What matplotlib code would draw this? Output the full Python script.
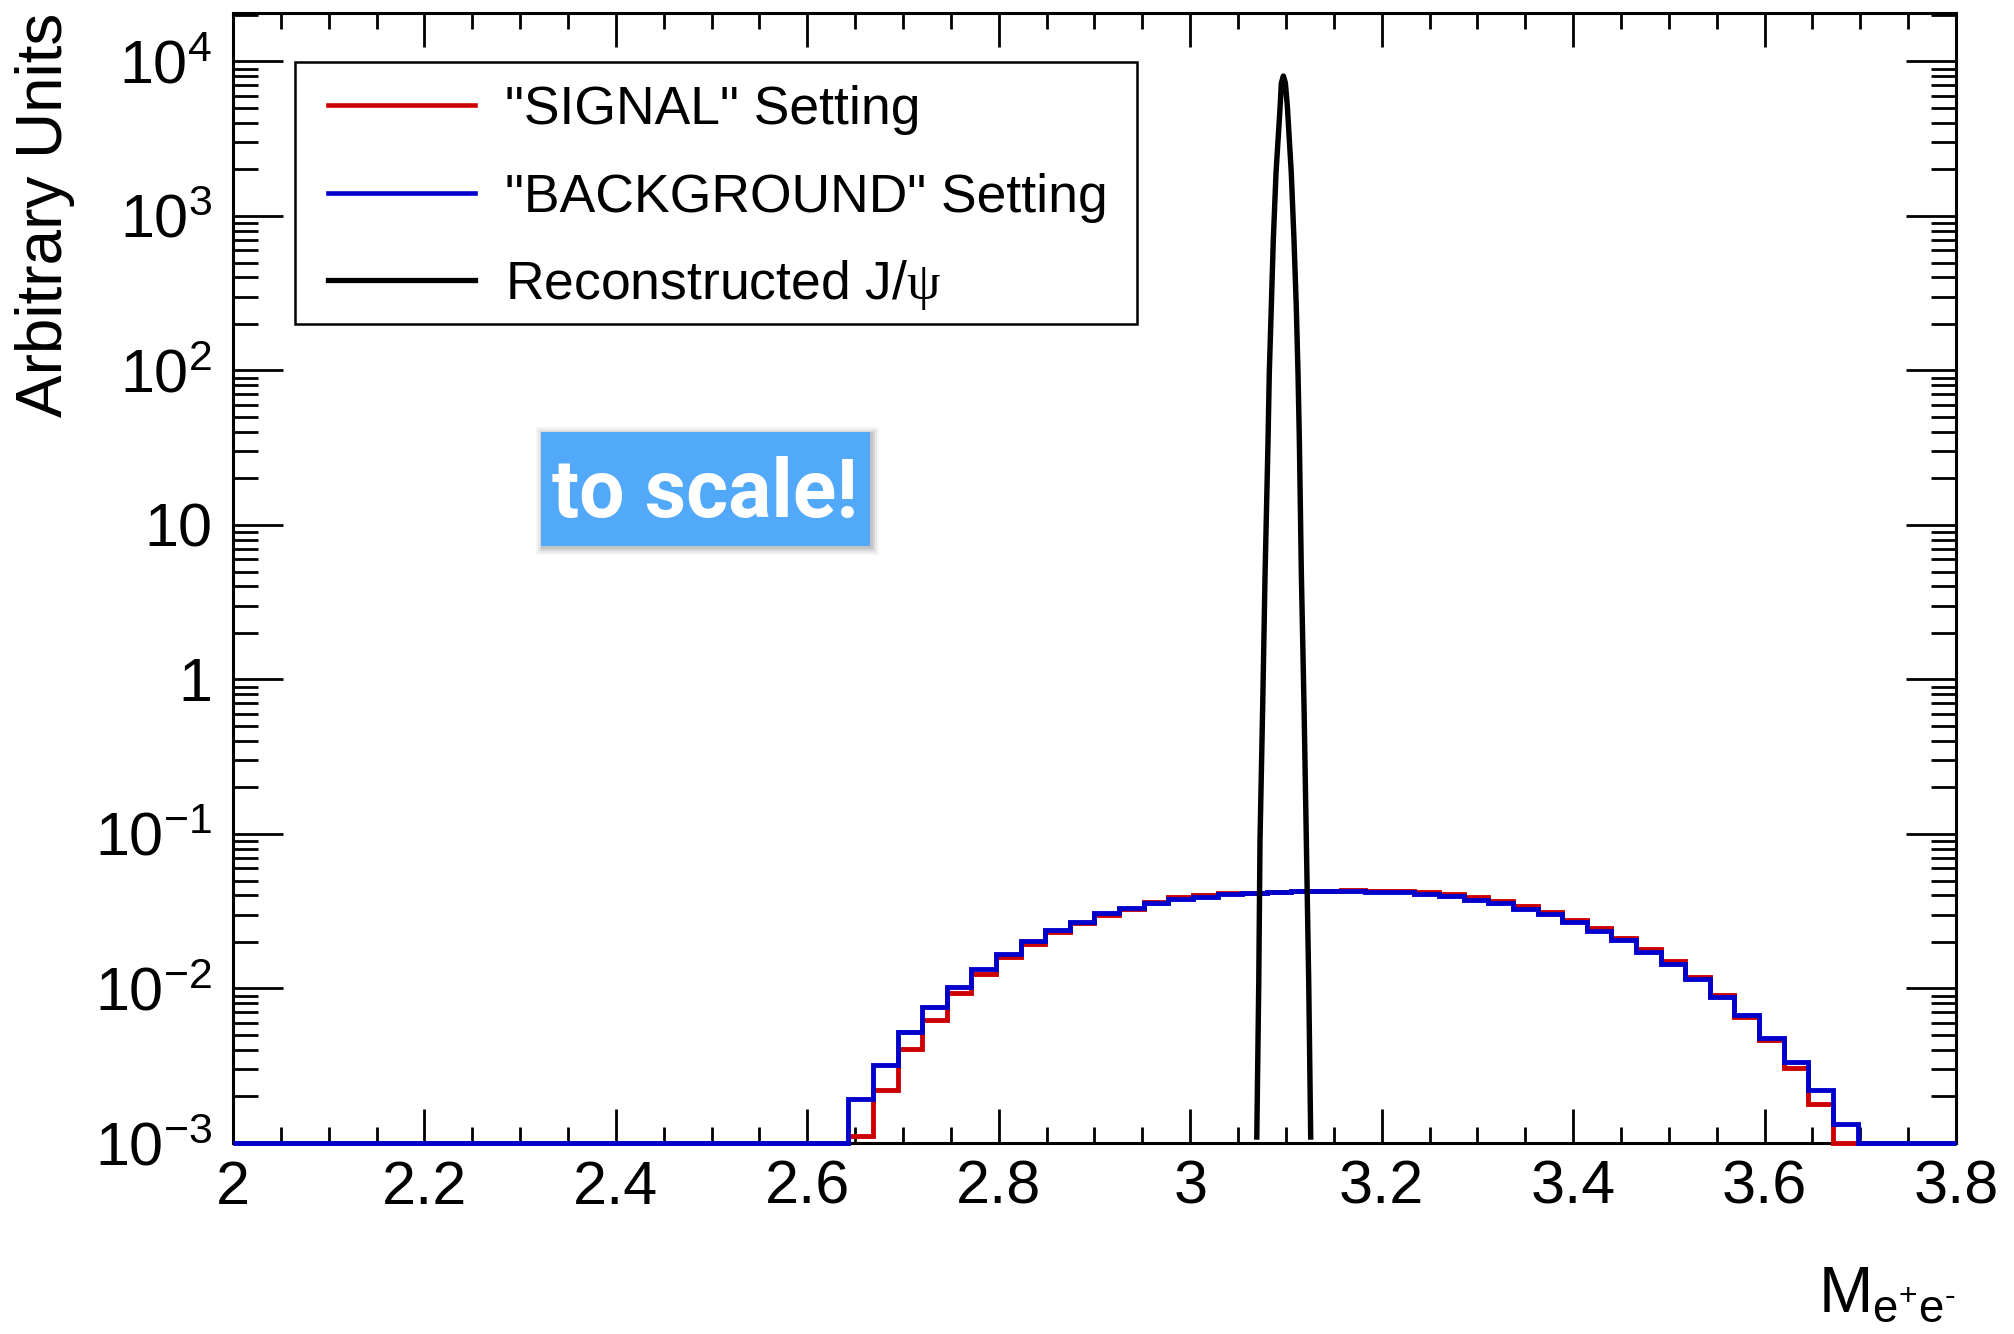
import numpy as np
import matplotlib
matplotlib.use("Agg")
import matplotlib.pyplot as plt
from matplotlib.patches import Rectangle
from matplotlib.lines import Line2D

# ---------------------------------------------------------------- data
# invariant-mass histograms: 70 bins between 2.0 and 3.8
mass_range = (2.0, 3.8)
n_bins = 70

signal_setting = [0.0] * 25 + [
    0.00111, 0.0022, 0.00404, 0.00625, 0.00931, 0.0125, 0.0161, 0.0194,
    0.0231, 0.0267, 0.0299, 0.0329, 0.0361, 0.0389, 0.0405, 0.0417,
    0.0417, 0.0423, 0.0428, 0.0430, 0.0432, 0.0430, 0.0428, 0.0419,
    0.0409, 0.0393, 0.0370, 0.0343, 0.0313, 0.0277, 0.0248, 0.0211,
    0.0180, 0.0151, 0.0118, 0.00907, 0.00657, 0.00464, 0.00304, 0.00178,
] + [0.0] * 5

background_setting = [0.0] * 25 + [
    0.00192, 0.0032, 0.0052, 0.0076, 0.0102, 0.0134, 0.0167, 0.0204,
    0.0238, 0.0271, 0.0307, 0.0333, 0.0357, 0.0379, 0.0393, 0.0407,
    0.0415, 0.0423, 0.0428, 0.0430, 0.0430, 0.0423, 0.0419, 0.0409,
    0.0395, 0.0374, 0.0356, 0.0327, 0.0302, 0.0268, 0.0237, 0.0206,
    0.0173, 0.0144, 0.0115, 0.00885, 0.0067, 0.00476, 0.00333, 0.0022,
    0.00132,
] + [0.0] * 4

# reconstructed J/psi line shape
jpsi_mass = [3.0695, 3.0716, 3.0729, 3.0757, 3.0782, 3.0813, 3.0826, 3.0847,
             3.0868, 3.0896, 3.0939, 3.0952, 3.0973, 3.0994, 3.1015, 3.1056,
             3.1084, 3.1108, 3.1126, 3.1140, 3.1161, 3.1189, 3.1213, 3.1238,
             3.1259]
jpsi_yield = [1.05e-3, 1.09e-2, 9.1e-2, 0.667, 4.86, 35.5, 96.0, 259.0,
              700.0, 1890.0, 5090.0, 7260.0, 8050.0, 7260.0, 5090.0, 1890.0,
              700.0, 259.0, 96.0, 35.5, 4.86, 0.667, 9.1e-2, 1.09e-2,
              1.05e-3]

legend_labels = ['"SIGNAL" Setting', '"BACKGROUND" Setting', "Reconstructed J/$\\mathbf{\\psi}$"]
colors = ["#cc0000", "#0000cc", "#000000"]

x_ticks = [2.0, 2.2, 2.4, 2.6, 2.8, 3.0, 3.2, 3.4, 3.6, 3.8]
x_tick_labels = ["2", "2.2", "2.4", "2.6", "2.8", "3", "3.2", "3.4", "3.6", "3.8"]
y_ticks = [1e-3, 1e-2, 1e-1, 1, 10, 1e2, 1e3, 1e4]
y_tick_labels = [r"$10^{-3}$", r"$10^{-2}$", r"$10^{-1}$", "1", "10",
                 r"$10^{2}$", r"$10^{3}$", r"$10^{4}$"]
y_limits = (1e-3, 2.06e4)

# ---------------------------------------------------------------- style
plt.rcParams["font.family"] = ["Liberation Sans", "DejaVu Sans"]
plt.rcParams["mathtext.fontset"] = "custom"
plt.rcParams["mathtext.rm"] = "Liberation Sans"
plt.rcParams["mathtext.it"] = "Liberation Sans"
# the Greek letter in the legend is set in a serif face
plt.rcParams["mathtext.bf"] = "Liberation Serif"
plt.rcParams["mathtext.default"] = "regular"

W, H = 2014, 1334


def fx(px):
    return px / W


def fy(py):
    return 1 - py / H


fig = plt.figure(figsize=(W / 100, H / 100), dpi=100)
ax = fig.add_axes([fx(233), fy(1143), (1956 - 233) / W, (1143 - 13) / H])

edges = np.linspace(mass_range[0], mass_range[1], n_bins + 1)
floor = y_limits[0]


def shown(values):
    v = np.asarray(values, dtype=float)
    return np.where(v > 0, v, floor)


ax.stairs(shown(signal_setting), edges, color=colors[0], lw=3.5,
          zorder=3, clip_on=False, baseline=None)
ax.stairs(shown(background_setting), edges, color=colors[1], lw=3.5,
          zorder=4, clip_on=False, baseline=None)
ax.plot(jpsi_mass, jpsi_yield, color=colors[2], lw=3.9, zorder=5,
        solid_joinstyle="round", solid_capstyle="butt")

ax.set_yscale("log")
ax.set_xlim(*mass_range)
ax.set_ylim(*y_limits)

ax.set_xticks(x_ticks)
ax.set_xticklabels(x_tick_labels)
ax.set_xticks(np.arange(2.0, 3.8001, 0.05), minor=True)
ax.set_yticks(y_ticks)
ax.set_yticklabels(y_tick_labels)
ax.yaxis.set_minor_locator(matplotlib.ticker.LogLocator(base=10, subs=np.arange(2, 10)))
ax.yaxis.set_minor_formatter(matplotlib.ticker.NullFormatter())

ax.tick_params(axis="both", which="both", direction="in", top=True, right=True,
               width=2.0, labelsize=44, colors="black")
ax.tick_params(axis="x", which="major", length=24.5, pad=12)
ax.tick_params(axis="x", which="minor", length=11.5)
ax.tick_params(axis="y", which="major", length=36, pad=15)
ax.tick_params(axis="y", which="minor", length=18)
for s in ax.spines.values():
    s.set_linewidth(2.2)

# axis titles
fig.text(fx(45), fy(13), "Arbitrary Units", rotation=90, ha="center", va="top",
         fontsize=46)
fig.text(fx(1956), fy(1312), "$M_{e^{+}e^{\u2010}}$", ha="right", va="baseline",
         fontsize=47)

# legend box
fig.add_artist(Rectangle((fx(295.4), fy(323.7)), (1136.7 - 295.4) / W,
                         (323.7 - 61.7) / H, transform=fig.transFigure,
                         facecolor="white", edgecolor="black", lw=1.8, zorder=6))
legend_rows = [105.3, 192.7, 280.0]
legend_widths = [3.3, 3.3, 3.8]
for row, label, col, lw in zip(legend_rows, legend_labels, colors, legend_widths):
    fig.add_artist(Line2D([fx(327.5), fx(475)], [fy(row), fy(row)],
                          transform=fig.transFigure, color=col, lw=lw, zorder=7))
    fig.text(fx(505), fy(row + 19), label, ha="left", va="baseline",
             fontsize=38.5, zorder=7)

# "to scale!" tag with soft drop shadow
bx0, by0, bx1, by1 = 540.7, 431.6, 869.5, 545.9
for grow, alpha in [(7, 0.04), (5, 0.05), (3, 0.07), (1.5, 0.09)]:
    fig.add_artist(Rectangle((fx(bx0 - grow + 2), fy(by1 + grow + 2)),
                             (bx1 - bx0 + 2 * grow) / W, (by1 - by0 + 2 * grow) / H,
                             transform=fig.transFigure, facecolor="black",
                             edgecolor="none", alpha=alpha, zorder=8))
fig.add_artist(Rectangle((fx(bx0), fy(by1)), (bx1 - bx0) / W, (by1 - by0) / H,
                         transform=fig.transFigure, facecolor="#52a8f9",
                         edgecolor="none", zorder=9))
fig.text(fx((bx0 + bx1) / 2), fy(516.7), "to scale!", ha="center", va="baseline",
         fontsize=58, fontweight="bold", family=["Roboto", "DejaVu Sans"],
         color="white", zorder=10)

fig.savefig("out.png", dpi=100)
